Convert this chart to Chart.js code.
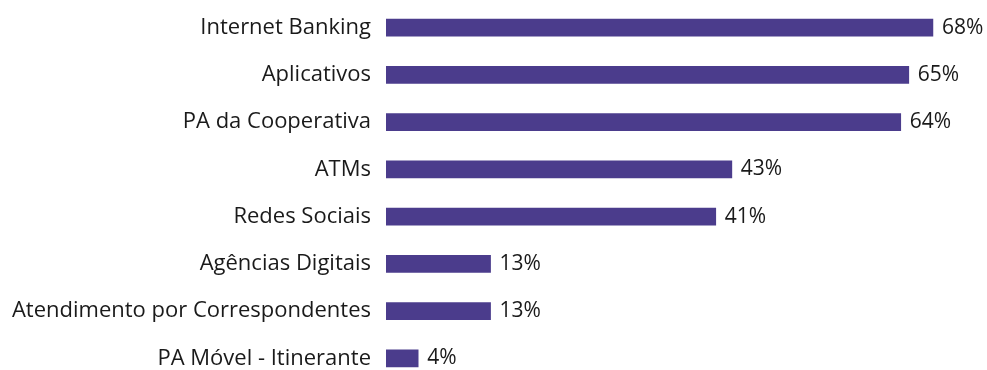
<!DOCTYPE html>
<html lang="pt-BR">
<head>
<meta charset="utf-8">
<title>Canais de atendimento</title>
<script src="https://cdn.jsdelivr.net/npm/chart.js@4.4.1/dist/chart.umd.min.js"></script>
<style>
    html, body { margin: 0; padding: 0; background: #fff; overflow: hidden; }
</style>
</head>
<body>
<canvas id="barChart" width="987" height="384"></canvas>
<script>
// Canais e percentuais
const categorias = [
    'Internet Banking',
    'Aplicativos',
    'PA da Cooperativa',
    'ATMs',
    'Redes Sociais',
    'Agências Digitais',
    'Atendimento por Correspondentes',
    'PA Móvel - Itinerante'
];
const valores = [68, 65, 64, 43, 41, 13, 13, 4];

const corBarra = '#4b3c8c';
const fonte = "'Open Sans', sans-serif";

// Escreve o percentual logo depois do fim de cada barra
const rotulosValor = {
    id: 'rotulosValor',
    afterDatasetsDraw(chart) {
        const ctx = chart.ctx;
        const meta = chart.getDatasetMeta(0);
        ctx.save();
        ctx.font = '21px ' + fonte;
        ctx.fillStyle = '#1a1a1a';
        ctx.textAlign = 'left';
        ctx.textBaseline = 'middle';
        meta.data.forEach((bar, i) => {
            ctx.fillText(valores[i] + '%', bar.x + 9, bar.y);
        });
        ctx.restore();
    }
};

const ctx = document.getElementById('barChart').getContext('2d');
new Chart(ctx, {
    type: 'bar',
    data: {
        labels: categorias,
        datasets: [{
            data: valores,
            backgroundColor: corBarra,
            borderWidth: 0,
            barThickness: 17
        }]
    },
    options: {
        indexAxis: 'y',
        responsive: false,
        animation: false,
        layout: { padding: { top: 4, bottom: 2, right: 38 } },
        plugins: {
            legend: { display: false },
            tooltip: { enabled: false }
        },
        scales: {
            x: {
                display: false,
                min: 0,
                max: 70
            },
            y: {
                grid: { display: false, drawTicks: false },
                border: { display: false },
                ticks: {
                    color: '#1a1a1a',
                    padding: 15,
                    font: { family: fonte, size: 22 }
                },
                afterFit(scale) {
                    // largura fixa da coluna de rótulos, sem folga extra em cima/embaixo
                    scale.width = 386;
                    scale.paddingTop = 0;
                    scale.paddingBottom = 0;
                }
            }
        }
    },
    plugins: [rotulosValor]
});
</script>
</body>
</html>
